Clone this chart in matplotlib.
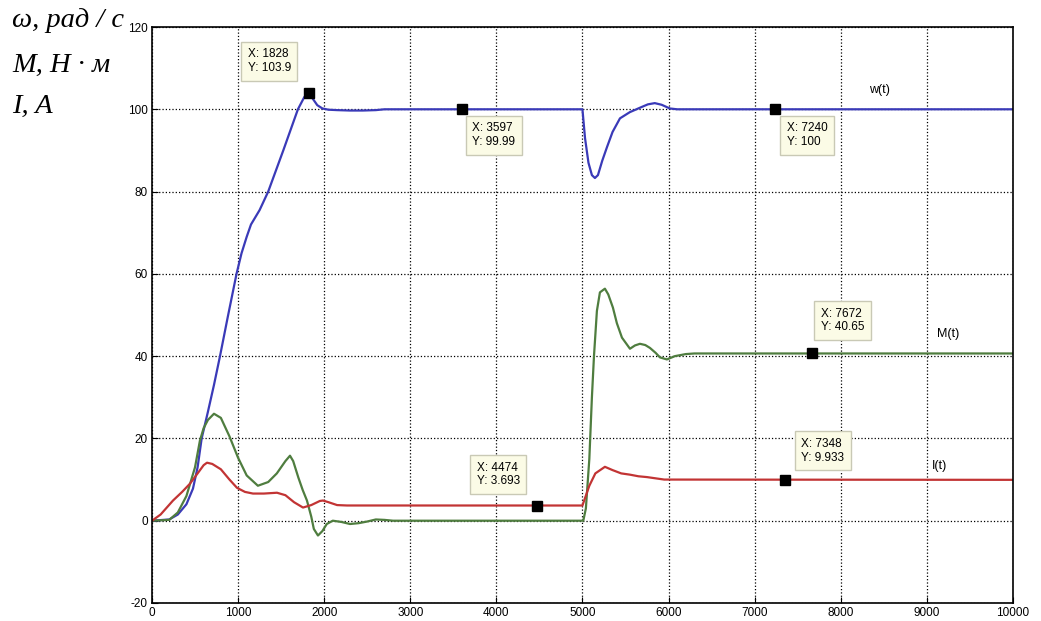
import matplotlib
matplotlib.use('Agg')
import matplotlib.pyplot as plt

plt.rcParams['axes.unicode_minus'] = False

# w(t), rad/s
t_w = [0, 200, 300, 400, 476, 530, 577, 650, 720, 790, 880, 982, 1040, 1100,
       1150, 1250, 1350, 1525, 1695, 1770, 1828, 1870, 1920, 1980, 2050, 2150,
       2300, 2450, 2600, 2700, 3000, 4000, 5000, 5030, 5070, 5110, 5145, 5180,
       5230, 5285, 5350, 5436, 5550, 5670, 5760, 5840, 5920, 6016, 6100, 10000]
w = [0, 0.3, 1.5, 4, 7.8, 13, 20, 26.5, 33, 40, 49.5, 60, 65, 69,
     72, 75.5, 80, 90, 100, 103, 103.9, 102.5, 101, 100.2, 99.9, 99.8,
     99.7, 99.7, 99.8, 100, 100, 100, 100, 93, 87, 84, 83.3, 84,
     87.5, 90.8, 94.5, 97.8, 99.3, 100.4, 101.2, 101.5, 101.1, 100.2, 100, 100]

# M(t), N*m
t_m = [0, 200, 300, 400, 500, 557, 600, 650, 720, 800, 900, 1000, 1100, 1230,
       1350, 1450, 1550, 1603, 1640, 1700, 1750, 1800, 1850, 1880, 1928, 1980,
       2030, 2100, 2200, 2300, 2400, 2500, 2600, 2700, 2800, 5000, 5010, 5040,
       5080, 5110, 5134, 5168, 5203, 5261, 5300, 5354, 5400, 5459, 5552, 5610,
       5668, 5730, 5784, 5850, 5900, 5981, 6074, 6200, 6300, 10000]
m = [0, 0.2, 2, 6, 13, 19.5, 22.5, 24.5, 26, 25, 20.5, 15.3, 11, 8.5,
     9.4, 11.5, 14.5, 15.8, 14.5, 10.5, 7.5, 4.9, 1, -2, -3.6, -2.5,
     -0.8, 0, -0.3, -0.8, -0.6, -0.2, 0.3, 0.2, 0, 0, 0, 3,
     15, 30, 40, 51, 55.5, 56.4, 55, 51.8, 48, 44.5, 41.8, 42.6,
     43, 42.7, 42, 40.8, 39.7, 39.2, 40, 40.5, 40.65, 40.65]

# I(t), A
t_i = [0, 100, 244, 350, 441, 530, 600, 639, 700, 800, 900, 987, 1080, 1173,
       1300, 1452, 1550, 1650, 1754, 1850, 1950, 1986, 2050, 2150, 2265, 5000,
       5030, 5080, 5150, 5261, 5350, 5450, 5550, 5650, 5750, 5850, 5950, 10000]
cur = [0, 1.5, 4.9, 7, 9, 11.5, 13.5, 14.1, 13.8, 12.5, 10, 8, 7, 6.6,
       6.6, 6.8, 6.2, 4.5, 3.2, 3.8, 4.8, 4.9, 4.5, 3.8, 3.7, 3.693,
       5.5, 8.5, 11.5, 13.1, 12.3, 11.5, 11.2, 10.8, 10.6, 10.3, 10, 9.933]

# data tips
tip_x = [1828, 3597, 7240, 7672, 7348, 4474]
tip_y = [103.9, 99.99, 100, 40.65, 9.933, 3.693]
tip_txt = ['X: 1828\nY: 103.9', 'X: 3597\nY: 99.99', 'X: 7240\nY: 100',
           'X: 7672\nY: 40.65', 'X: 7348\nY: 9.933', 'X: 4474\nY: 3.693']
tip_off = [(-40, 32), (32, -26), (32, -26), (30, 33), (38, 29), (-39, 31)]

x_ticks = list(range(0, 10001, 1000))
y_ticks = list(range(-20, 121, 20))

fig = plt.figure(figsize=(10.41, 6.21), dpi=100)
ax = fig.add_axes([0.146, 0.029, 0.827, 0.9275])

ax.plot(t_w, w, color='#3a3ab8', lw=1.6)
ax.plot(t_m, m, color='#4f7d3f', lw=1.6)
ax.plot(t_i, cur, color='#c23434', lw=1.6)

ax.plot(tip_x, tip_y, 's', color='black', ms=7, ls='none', zorder=5)
for x, y, s, off in zip(tip_x, tip_y, tip_txt, tip_off):
    ax.annotate(s, xy=(x, y), xytext=off, textcoords='offset pixels',
                ha='center', va='center', multialignment='left',
                fontsize=8.5, family='Liberation Sans',
                bbox=dict(boxstyle='square,pad=0.55', fc='#fbfbe6', ec='#c9c9b5', lw=1),
                zorder=6)

ax.text(8455, 103.2, 'w(t)', fontsize=9, family='Liberation Sans', ha='center', va='bottom')
ax.text(9245, 45.5, 'M(t)', fontsize=9, family='Liberation Sans', ha='center', va='center')
ax.text(9152, 13.4, 'I(t)', fontsize=9, family='Liberation Sans', ha='center', va='center')

ax.set_xlim(0, 10000)
ax.set_ylim(-20, 120)
ax.set_xticks(x_ticks)
ax.set_yticks(y_ticks)
ax.tick_params(direction='in', length=4, labelsize=8.5, pad=3)
for lab in ax.get_xticklabels() + ax.get_yticklabels():
    lab.set_family('Liberation Sans')
ax.grid(True, color='black', ls=':', lw=0.9)
for sp in ax.spines.values():
    sp.set_linewidth(1.2)

lab_kw = dict(fontsize=20.5, family='Liberation Serif', style='italic', va='baseline')
fig.text(0.012, 0.9565, 'ω, рад / с', **lab_kw)
fig.text(0.012, 0.884, 'M, Н · м', **lab_kw)
fig.text(0.012, 0.818, 'I, A', **lab_kw)

fig.savefig('out.png', dpi=100)
